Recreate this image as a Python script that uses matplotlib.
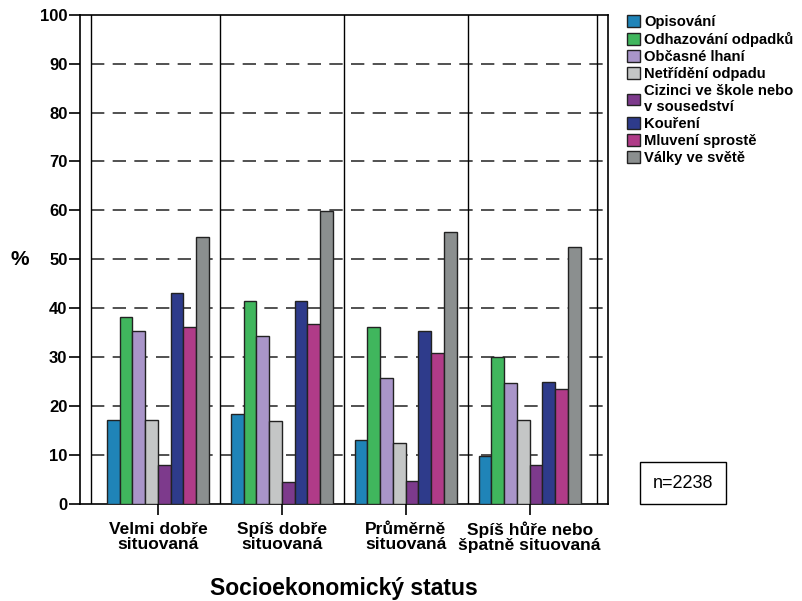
import matplotlib
matplotlib.use('Agg')
import matplotlib.pyplot as plt
from matplotlib.patches import Patch
import numpy as np

plt.rcParams['font.family'] = ['Liberation Sans', 'DejaVu Sans']

# data
groups = ['Velmi dobře\nsituovaná', 'Spíš dobře\nsituovaná', 'Průměrně\nsituovaná',
          'Spíš hůře nebo\nšpatně situovaná']
series = ['Opisování', 'Odhazování odpadků', 'Občasné lhaní', 'Netřídění odpadu',
          'Cizinci ve škole nebo\nv sousedství', 'Kouření', 'Mluvení sprostě', 'Války ve světě']
opisovani = [17.1, 18.4, 13.1, 9.8]
odhazovani = [38.1, 41.5, 36.1, 29.9]
lhani = [35.4, 34.3, 25.6, 24.7]
netrideni = [17.1, 16.8, 12.4, 17.1]
cizinci = [7.9, 4.5, 4.7, 7.9]
koureni = [43.0, 41.5, 35.3, 24.8]
sprostota = [36.2, 36.7, 30.8, 23.4]
valky = [54.5, 59.9, 55.6, 52.5]
values = [opisovani, odhazovani, lhani, netrideni, cizinci, koureni, sprostota, valky]
colors = ['#1f84b8', '#40b65d', '#a995c9', '#c4c6c6', '#7d3a8c', '#2e3b8b', '#b03b88', '#8b8f8f']
yticks = [0, 10, 20, 30, 40, 50, 60, 70, 80, 90, 100]

fig = plt.figure(figsize=(8.03, 6.01), dpi=100)
ax = fig.add_axes([0.0996, 0.1622, 0.657, 0.813])

x = np.arange(len(groups))
w = 0.103
for i, (vals, c) in enumerate(zip(values, colors)):
    ax.bar(x + (i - 3.5) * w, vals, w, color=c, edgecolor='#222222', linewidth=1.0, zorder=3)

ax.set_xlim(-0.629, 3.629)
ax.set_ylim(0, 100)

# dashed grid
for yv in yticks[1:-1]:
    ax.axhline(yv, xmin=0.02, color='#333333', lw=1.2, dashes=(8, 5), zorder=1)
# inner frame and group separators
for xv in [-0.54, 0.5, 1.5, 2.5, 3.54]:
    ax.axvline(xv, color='black', lw=1.0, zorder=2)

for s in ax.spines.values():
    s.set_linewidth(1.2)

ax.set_yticks(yticks)
ax.set_yticklabels([str(t) for t in yticks], fontsize=12, fontweight='bold')
ax.set_xticks(x)
ax.set_xticklabels(groups, fontsize=12.5, fontweight='bold', linespacing=1.0)
ax.tick_params(axis='both', length=8, width=1.2, direction='out', pad=1)
ax.tick_params(axis='x', pad=5)

ax.set_ylabel('%', fontsize=15, fontweight='bold', rotation=0, va='center', ha='center')
ax.yaxis.set_label_coords(-0.114, 0.5)
ax.set_xlabel('Socioekonomický status', fontsize=16.5, fontweight='bold', labelpad=17)

handles = [Patch(facecolor=c, edgecolor='#222222', linewidth=1.0) for c in colors]
fig.legend(handles, series, loc='upper left', bbox_to_anchor=(0.781, 0.975),
           frameon=False, prop={'size': 10.6, 'weight': 'bold'},
           handlelength=0.85, handleheight=0.85, handletextpad=0.3,
           labelspacing=0.2, borderaxespad=0, borderpad=0)

fig.text(0.8506, 0.196, 'n=2238', fontsize=13, ha='center', va='center',
         bbox=dict(boxstyle='square,pad=0.7', facecolor='white', edgecolor='black', lw=1.0))

fig.savefig('out.png', dpi=100)
